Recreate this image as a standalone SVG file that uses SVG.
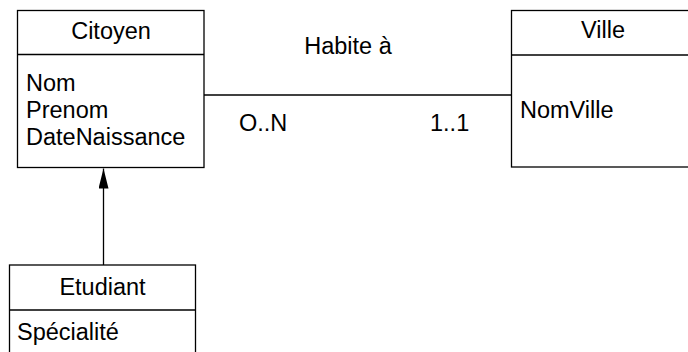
<svg xmlns="http://www.w3.org/2000/svg" width="688" height="352" viewBox="0 0 688 352">
<defs>
<style>
.box{fill:#fff;stroke:#000;stroke-width:1.3}
.ln{stroke:#000;stroke-width:1.3;fill:none}
text{font-family:"Liberation Sans",Arial,sans-serif;font-size:23.5px;fill:#000}
.c{text-anchor:middle}
</style>
<marker id="tri" viewBox="0 0 20 10" refX="20" refY="5" markerWidth="20" markerHeight="10" markerUnits="userSpaceOnUse" orient="auto">
<path d="M0,0 L20,5 L0,10 Z" fill="#000"/>
</marker>
</defs>
<rect width="688" height="352" fill="#fff"/>
<g id="connectors">
<line class="ln" x1="204" y1="95" x2="511" y2="95"/>
<line class="ln" x1="103.5" y1="265" x2="103.5" y2="168.5" marker-end="url(#tri)"/>
<text class="c" x="348" y="54">Habite à</text>
<text x="239" y="131">O..N</text>
<text x="430" y="131">1..1</text>
</g>
<g id="citoyen">
<rect class="box" x="17.5" y="10.5" width="186.5" height="157"/>
<line class="ln" x1="17.5" y1="54.5" x2="204" y2="54.5"/>
<text class="c" x="111" y="39">Citoyen</text>
<text x="26" y="91">Nom</text>
<text x="26" y="118">Prenom</text>
<text x="26" y="145">DateNaissance</text>
</g>
<g id="ville">
<rect class="box" x="511.5" y="10.5" width="200" height="156.5"/>
<line class="ln" x1="511.5" y1="55" x2="711.5" y2="55"/>
<text class="c" x="603" y="38">Ville</text>
<text x="520" y="118">NomVille</text>
</g>
<g id="etudiant">
<rect class="box" x="9.5" y="265" width="186" height="100"/>
<line class="ln" x1="9.5" y1="310" x2="195.5" y2="310"/>
<text class="c" x="102.5" y="295">Etudiant</text>
<text x="17" y="340">Spécialité</text>
</g>
</svg>
